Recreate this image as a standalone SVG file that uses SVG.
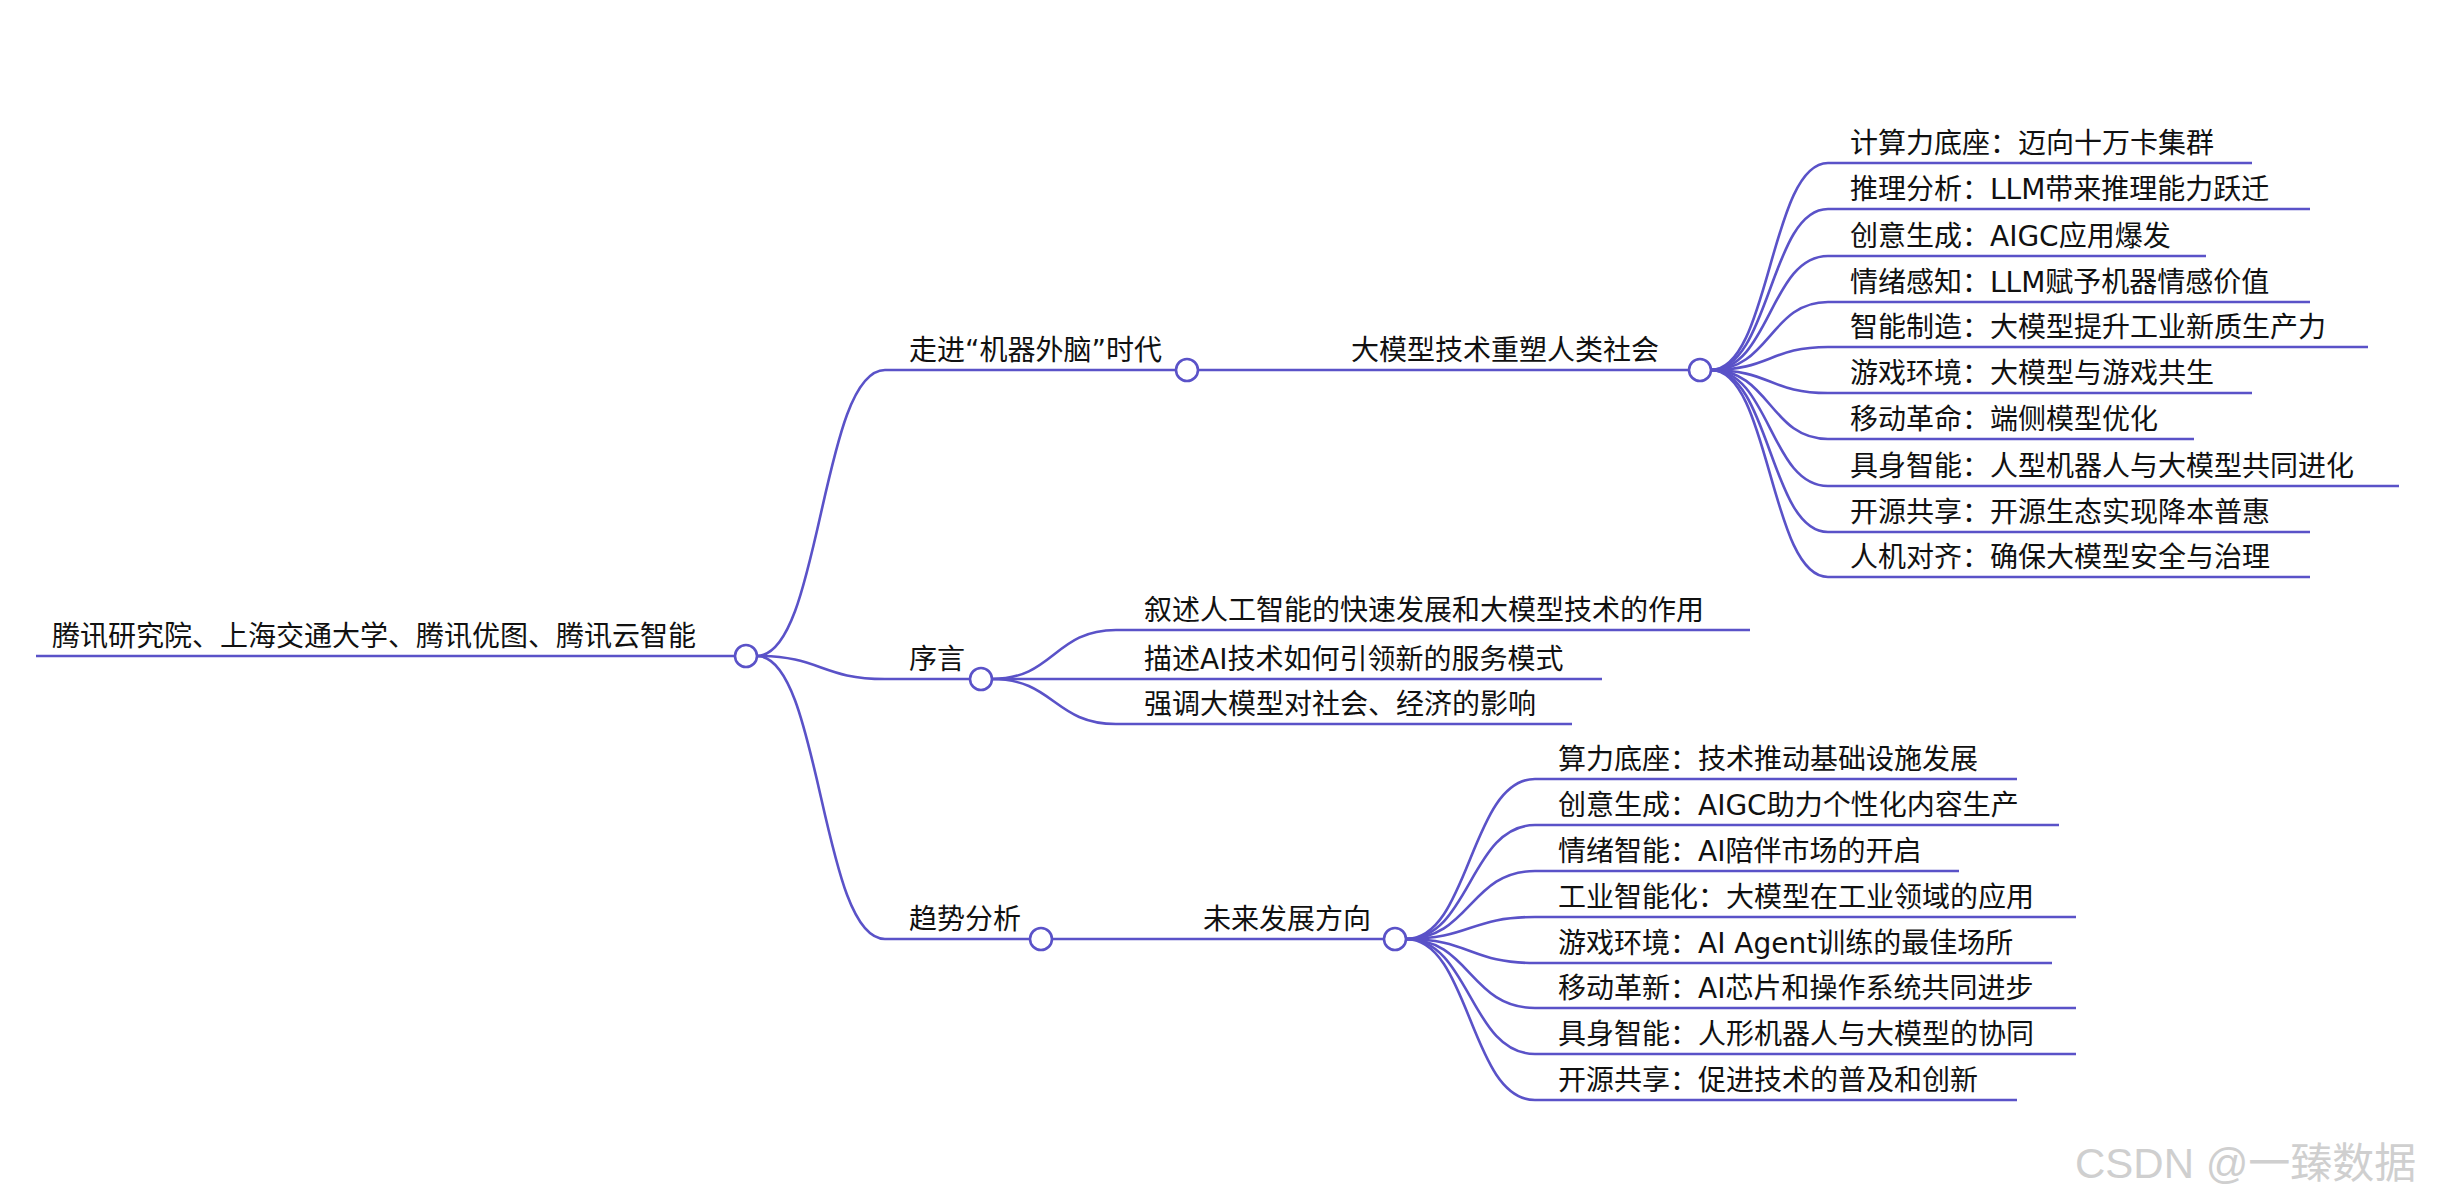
<svg xmlns="http://www.w3.org/2000/svg" width="2446" height="1202" viewBox="0 0 2446 1202">
<style>
text{font-family:"DejaVu Sans","Noto Sans CJK SC",sans-serif;font-size:28px;fill:#111}
.c path,.c line{fill:none;stroke:#5a52c8;stroke-width:2.6}
circle{fill:#fff;stroke:#5a52c8;stroke-width:2.6}
.wm{font-family:"Liberation Sans","Noto Sans CJK SC",sans-serif;font-size:42px;fill:#cfcfcf}
</style>
<rect width="2446" height="1202" fill="#fff"/>
<g class="c" id="connectors">
<line x1="36" y1="656" x2="735" y2="656"/>
<path d="M757 656 C821 656 821 370 885 370 H1176"/>
<path d="M757 656 C821 656 821 679 885 679 H970"/>
<path d="M757 656 C821 656 821 939 885 939 H1030"/>
<path d="M1198 370 H1689"/>
<path d="M1052 939 H1384"/>
<path d="M992 679 C1054 679 1054 630 1116 630 H1750"/>
<path d="M992 679 H1602"/>
<path d="M992 679 C1054 679 1054 724 1116 724 H1572"/>
<g>
<path d="M1711 370 C1770 370 1770 163 1828 163 H2252"/>
<path d="M1711 370 C1770 370 1770 209 1828 209 H2310"/>
<path d="M1711 370 C1770 370 1770 256 1828 256 H2206"/>
<path d="M1711 370 C1770 370 1770 302 1828 302 H2310"/>
<path d="M1711 370 C1770 370 1770 347 1828 347 H2368"/>
<path d="M1711 370 C1770 370 1770 393 1828 393 H2252"/>
<path d="M1711 370 C1770 370 1770 439 1828 439 H2194"/>
<path d="M1711 370 C1770 370 1770 486 1828 486 H2399"/>
<path d="M1711 370 C1770 370 1770 532 1828 532 H2310"/>
<path d="M1711 370 C1770 370 1770 577 1828 577 H2310"/>
</g>
<g>
<path d="M1406 939 C1470 939 1470 779 1535 779 H2017"/>
<path d="M1406 939 C1470 939 1470 825 1535 825 H2059"/>
<path d="M1406 939 C1470 939 1470 871 1535 871 H1959"/>
<path d="M1406 939 C1470 939 1470 917 1535 917 H2076"/>
<path d="M1406 939 C1470 939 1470 963 1535 963 H2052"/>
<path d="M1406 939 C1470 939 1470 1008 1535 1008 H2076"/>
<path d="M1406 939 C1470 939 1470 1054 1535 1054 H2076"/>
<path d="M1406 939 C1470 939 1470 1100 1535 1100 H2017"/>
</g>
</g>
<g id="root"><text x="52" y="646">腾讯研究院、上海交通大学、腾讯优图、腾讯云智能</text><circle cx="746" cy="656" r="11"/></g>
<g id="n1"><text x="909" y="360">走进“机器外脑”时代</text><circle cx="1187" cy="370" r="11"/></g>
<g id="n2"><text x="909" y="669">序言</text><circle cx="981" cy="679" r="11"/></g>
<g id="n3"><text x="909" y="929">趋势分析</text><circle cx="1041" cy="939" r="11"/></g>
<g id="n11"><text x="1351" y="360">大模型技术重塑人类社会</text><circle cx="1700" cy="370" r="11"/></g>
<g id="n31"><text x="1203" y="929">未来发展方向</text><circle cx="1395" cy="939" r="11"/></g>
<g id="l2"><text x="1144" y="620">叙述人工智能的快速发展和大模型技术的作用</text></g>
<g id="l3"><text x="1144" y="669">描述AI技术如何引领新的服务模式</text></g>
<g id="l4"><text x="1144" y="714">强调大模型对社会、经济的影响</text></g>
<g id="a1"><text x="1850" y="153">计算力底座：迈向十万卡集群</text></g>
<g id="a2"><text x="1850" y="199">推理分析：LLM带来推理能力跃迁</text></g>
<g id="a3"><text x="1850" y="246">创意生成：AIGC应用爆发</text></g>
<g id="a4"><text x="1850" y="292">情绪感知：LLM赋予机器情感价值</text></g>
<g id="a5"><text x="1850" y="337">智能制造：大模型提升工业新质生产力</text></g>
<g id="a6"><text x="1850" y="383">游戏环境：大模型与游戏共生</text></g>
<g id="a7"><text x="1850" y="429">移动革命：端侧模型优化</text></g>
<g id="a8"><text x="1850" y="476">具身智能：人型机器人与大模型共同进化</text></g>
<g id="a9"><text x="1850" y="522">开源共享：开源生态实现降本普惠</text></g>
<g id="a10"><text x="1850" y="567">人机对齐：确保大模型安全与治理</text></g>
<g id="b1"><text x="1558" y="769">算力底座：技术推动基础设施发展</text></g>
<g id="b2"><text x="1558" y="815">创意生成：AIGC助力个性化内容生产</text></g>
<g id="b3"><text x="1558" y="861">情绪智能：AI陪伴市场的开启</text></g>
<g id="b4"><text x="1558" y="907">工业智能化：大模型在工业领域的应用</text></g>
<g id="b5"><text x="1558" y="953">游戏环境：AI Agent训练的最佳场所</text></g>
<g id="b6"><text x="1558" y="998">移动革新：AI芯片和操作系统共同进步</text></g>
<g id="b7"><text x="1558" y="1044">具身智能：人形机器人与大模型的协同</text></g>
<g id="b8"><text x="1558" y="1090">开源共享：促进技术的普及和创新</text></g>
<text class="wm" x="2075" y="1178">CSDN @一臻数据</text>
</svg>
